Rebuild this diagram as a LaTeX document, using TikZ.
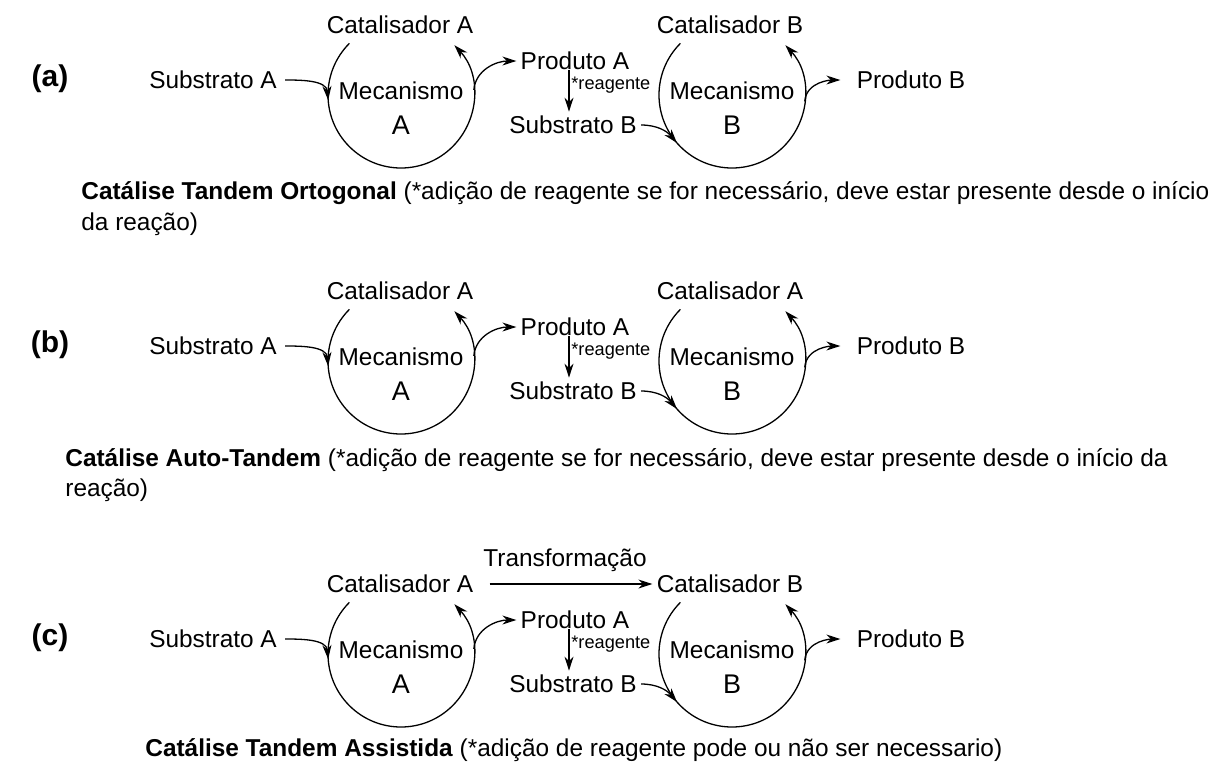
\documentclass[tikz,border=0pt]{standalone}
\usepackage{fontspec}
\setmainfont{Liberation Sans}
\usetikzlibrary{arrows.meta}

\begin{document}
\begin{tikzpicture}[x=0.5pt,y=0.5pt,
    rotulo/.style={font=\fontsize{12.2}{14}\selectfont, inner sep=2pt},
    letra/.style={font=\fontsize{13.5}{16}\selectfont, inner sep=2pt},
    reag/.style={font=\fontsize{9.1}{11}\selectfont, inner sep=1pt, anchor=west},
    painel/.style={font=\bfseries\fontsize{15}{18}\selectfont},
    legenda/.style={font=\fontsize{12.2}{14}\selectfont, anchor=base west, inner sep=0pt},
    seta/.style={-{Stealth[length=7pt,width=4.5pt]}, line width=0.65pt},
    ciclo/.style={line width=0.65pt}]
    \useasboundingbox (0,0) rectangle (1211,-767);

    \foreach \p/\dy/\cat in {a/0/B, b/266/A, c/559/B} {
    \begin{scope}[shift={(0,-\dy)}]
        % rotulo do painel
        \node[painel] (lbl-\p) at (50,-79) {(\p)};

        % Mecanismo A
        \coordinate (cA-\p) at (401,-95);
        \draw[ciclo,-{Stealth[length=7pt,width=4.5pt]}] (cA-\p) ++(135:73) arc[start angle=135, end angle=403, radius=73];
        \path (cA-\p) ++(184:73) coordinate (entA-\p) (cA-\p) ++(4:73) coordinate (saiA-\p);
        \node[rotulo] (catA-\p) at (400,-25) {Catalisador A};
        \node[rotulo] (mecA-\p) at (401,-91) {Mecanismo};
        \node[letra] (letA-\p) at (401,-125) {A};
        \node[rotulo] (subA-\p) at (213,-80) {Substrato A};
        \node[rotulo] (prodA-\p) at (575,-61) {Produto A};

        % Mecanismo B
        \coordinate (cB-\p) at (732,-95);
        \draw[ciclo,-{Stealth[length=7pt,width=4.5pt]}] (cB-\p) ++(135:73) arc[start angle=135, end angle=403, radius=73];
        \path (cB-\p) ++(221:73) coordinate (entB-\p) (cB-\p) ++(-5:73) coordinate (saiB-\p);
        \node[rotulo] (catB-\p) at (730,-25) {Catalisador \cat};
        \node[rotulo] (mecB-\p) at (732,-91) {Mecanismo};
        \node[letra] (letB-\p) at (732,-125) {B};
        \node[rotulo] (subB-\p) at (573,-125) {Substrato B};
        \node[rotulo] (prodB-\p) at (911,-80) {Produto B};
        \node[reag] (reag-\p) at (569,-85) {*reagente};

        % setas
        \draw[seta, shorten <=2pt] (subA-\p.east) to[out=0,in=95] (entA-\p);
        \draw[seta] (saiA-\p) to[out=85,in=180] (prodA-\p.west);
        \draw[seta] (prodA-\p.base -| reag-\p.west) -- (subB-\p.north -| reag-\p.west);
        \draw[seta] (subB-\p.east) to[out=0,in=130] (entB-\p);
        \draw[seta, shorten >=6pt] (saiB-\p) to[out=85,in=180] (prodB-\p.west);
    \end{scope}
    }

    % transformacao do catalisador (c)
    \draw[seta, shorten <=6pt] (catA-c.east) -- node[rotulo, above, yshift=4pt] (transf) {Transformação} (catB-c.west);

    % legendas
    \node[legenda] (leg-a1) at (81,-199) {\textbf{Catálise Tandem Ortogonal} (*adição de reagente se for necessário, deve estar presente desde o início};
    \node[legenda] (leg-a2) at (81,-230) {da reação)};
    \node[legenda] (leg-b1) at (65,-466) {\textbf{Catálise Auto-Tandem} (*adição de reagente se for necessário, deve estar presente desde o início da};
    \node[legenda] (leg-b2) at (65,-496) {reação)};
    \node[legenda] (leg-c1) at (145,-756) {\textbf{Catálise Tandem Assistida} (*adição de reagente pode ou não ser necessario)};
\end{tikzpicture}
\end{document}
